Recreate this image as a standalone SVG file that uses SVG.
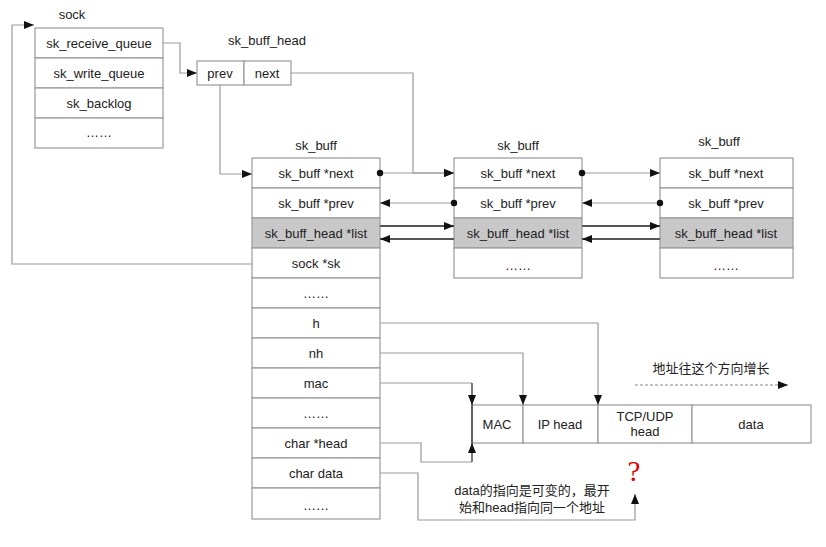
<svg xmlns="http://www.w3.org/2000/svg" width="826" height="547" viewBox="0 0 826 547">
<style>
.box{fill:#fff;stroke:#999;stroke-width:1.2}
.gray{fill:#c8c8c8;stroke:#999;stroke-width:1.2}
.t{font-family:"Liberation Sans",Arial,sans-serif;font-size:13px;fill:#222;text-anchor:middle;dominant-baseline:central}
.cn{font-family:"Liberation Sans","Noto Sans CJK SC",sans-serif;font-size:13px;fill:#222;text-anchor:middle;dominant-baseline:central}
.ln{fill:none;stroke:#999;stroke-width:1.2}
.lk{fill:none;stroke:#555;stroke-width:2}
.bk{fill:none;stroke:#222;stroke-width:1.2}
</style>
<defs>
<marker id="ar" markerUnits="userSpaceOnUse" markerWidth="12" markerHeight="10" refX="10" refY="5" orient="auto"><path d="M0,1 L10,5 L0,9 Z" fill="#111"/></marker>
<marker id="dot" markerUnits="userSpaceOnUse" markerWidth="8" markerHeight="8" refX="4" refY="4"><circle cx="4" cy="4" r="3.2" fill="#111"/></marker>
</defs>
<rect width="826" height="547" fill="#fff"/>

<g id="sock">
<text class="t" x="72" y="14">sock</text>
<rect class="box" x="35" y="28" width="128" height="30"/><text class="t" x="99" y="43">sk_receive_queue</text>
<rect class="box" x="35" y="58" width="128" height="30"/><text class="t" x="99" y="73">sk_write_queue</text>
<rect class="box" x="35" y="88" width="128" height="30"/><text class="t" x="99" y="103">sk_backlog</text>
<rect class="box" x="35" y="118" width="128" height="30"/><text class="t" x="99" y="132">……</text>
</g>

<g id="sk_buff_head">
<text class="t" x="267" y="40">sk_buff_head</text>
<rect class="box" x="197" y="61" width="47" height="24"/><text class="t" x="220" y="73">prev</text>
<rect class="box" x="244" y="61" width="47" height="24"/><text class="t" x="267" y="73">next</text>
</g>

<g id="sk_buff1">
<text class="t" x="316" y="145">sk_buff</text>
<rect class="box" x="252" y="158" width="128" height="30"/><text class="t" x="316" y="173">sk_buff *next</text>
<rect class="box" x="252" y="188" width="128" height="30"/><text class="t" x="316" y="203">sk_buff *prev</text>
<rect class="gray" x="252" y="218" width="128" height="30"/><text class="t" x="316" y="233">sk_buff_head *list</text>
<rect class="box" x="252" y="248" width="128" height="30"/><text class="t" x="316" y="263">sock *sk</text>
<rect class="box" x="252" y="278" width="128" height="30"/><text class="t" x="316" y="293">……</text>
<rect class="box" x="252" y="308" width="128" height="30"/><text class="t" x="316" y="323">h</text>
<rect class="box" x="252" y="338" width="128" height="30"/><text class="t" x="316" y="353">nh</text>
<rect class="box" x="252" y="368" width="128" height="30"/><text class="t" x="316" y="383">mac</text>
<rect class="box" x="252" y="398" width="128" height="30"/><text class="t" x="316" y="413">……</text>
<rect class="box" x="252" y="428" width="128" height="30"/><text class="t" x="316" y="443">char *head</text>
<rect class="box" x="252" y="458" width="128" height="30"/><text class="t" x="316" y="473">char data</text>
<rect class="box" x="252" y="488" width="128" height="31"/><text class="t" x="316" y="505">……</text>
</g>

<g id="sk_buff2">
<text class="t" x="518" y="145">sk_buff</text>
<rect class="box" x="454" y="158" width="128" height="30"/><text class="t" x="518" y="173">sk_buff *next</text>
<rect class="box" x="454" y="188" width="128" height="30"/><text class="t" x="518" y="203">sk_buff *prev</text>
<rect class="gray" x="454" y="218" width="128" height="30"/><text class="t" x="518" y="233">sk_buff_head *list</text>
<rect class="box" x="454" y="248" width="128" height="30"/><text class="t" x="518" y="265">……</text>
</g>

<g id="sk_buff3">
<text class="t" x="719" y="141">sk_buff</text>
<rect class="box" x="660" y="158" width="133" height="30"/><text class="t" x="726" y="173">sk_buff *next</text>
<rect class="box" x="660" y="188" width="133" height="30"/><text class="t" x="726" y="203">sk_buff *prev</text>
<rect class="gray" x="660" y="218" width="133" height="30"/><text class="t" x="726" y="233">sk_buff_head *list</text>
<rect class="box" x="660" y="248" width="133" height="30"/><text class="t" x="726" y="265">……</text>
</g>

<g id="packet">
<rect class="box" x="472" y="405" width="51" height="38"/><text class="t" x="497" y="424">MAC</text>
<rect class="box" x="523" y="405" width="75" height="38"/><text class="t" x="560" y="424">IP head</text>
<rect class="box" x="598" y="405" width="94" height="38"/><text class="t" x="645" y="416">TCP/UDP</text><text class="t" x="645" y="431">head</text>
<rect class="box" x="692" y="405" width="119" height="38"/><text class="t" x="751" y="424">data</text>
</g>

<g id="notes">
<text class="cn" x="711" y="368">地址往这个方向增长</text>
<text class="cn" x="532" y="490">data的指向是可变的，最开</text>
<text class="cn" x="532" y="507">始和head指向同一个地址</text>
<text x="634" y="481" font-family="Liberation Serif,serif" font-size="29" fill="#d00" text-anchor="middle">?</text>
</g>

<g id="connectors">
<path class="ln" d="M252,264 H12 V25 H34" marker-end="url(#ar)"/>
<path class="ln" d="M163,43 H180 V73 H197" marker-end="url(#ar)"/>
<path class="ln" d="M220,85 V174 H252" marker-end="url(#ar)"/>
<path class="ln" d="M291,73 H413 V173 H454" marker-end="url(#ar)"/>
<path class="ln" d="M380,173 H454" marker-start="url(#dot)" marker-end="url(#ar)"/>
<path class="ln" d="M454,203 H380" marker-start="url(#dot)" marker-end="url(#ar)"/>
<path class="lk" d="M380,226 H454" marker-end="url(#ar)"/>
<path class="lk" d="M454,239 H380" marker-end="url(#ar)"/>
<path class="ln" d="M582,173 H660" marker-start="url(#dot)" marker-end="url(#ar)"/>
<path class="ln" d="M660,203 H582" marker-start="url(#dot)" marker-end="url(#ar)"/>
<path class="lk" d="M582,226 H660" marker-end="url(#ar)"/>
<path class="lk" d="M660,239 H582" marker-end="url(#ar)"/>
<path class="ln" d="M380,323 H598 V405" marker-end="url(#ar)"/>
<path class="ln" d="M380,353 H523 V405" marker-end="url(#ar)"/>
<path class="ln" d="M380,383 H472"/>
<path class="bk" d="M472,383 V405" marker-end="url(#ar)"/>
<path class="bk" d="M472,405 V443"/>
<path class="ln" d="M380,443 H421 V462 H472"/>
<path class="bk" d="M472,462 V443" marker-end="url(#ar)"/>
<path class="ln" d="M380,473 H418 V520 H635 V494" marker-end="url(#ar)"/>
<path d="M635,385 H788" fill="none" stroke="#888" stroke-width="1" stroke-dasharray="3,2" marker-end="url(#ar)"/>
</g>
</svg>
